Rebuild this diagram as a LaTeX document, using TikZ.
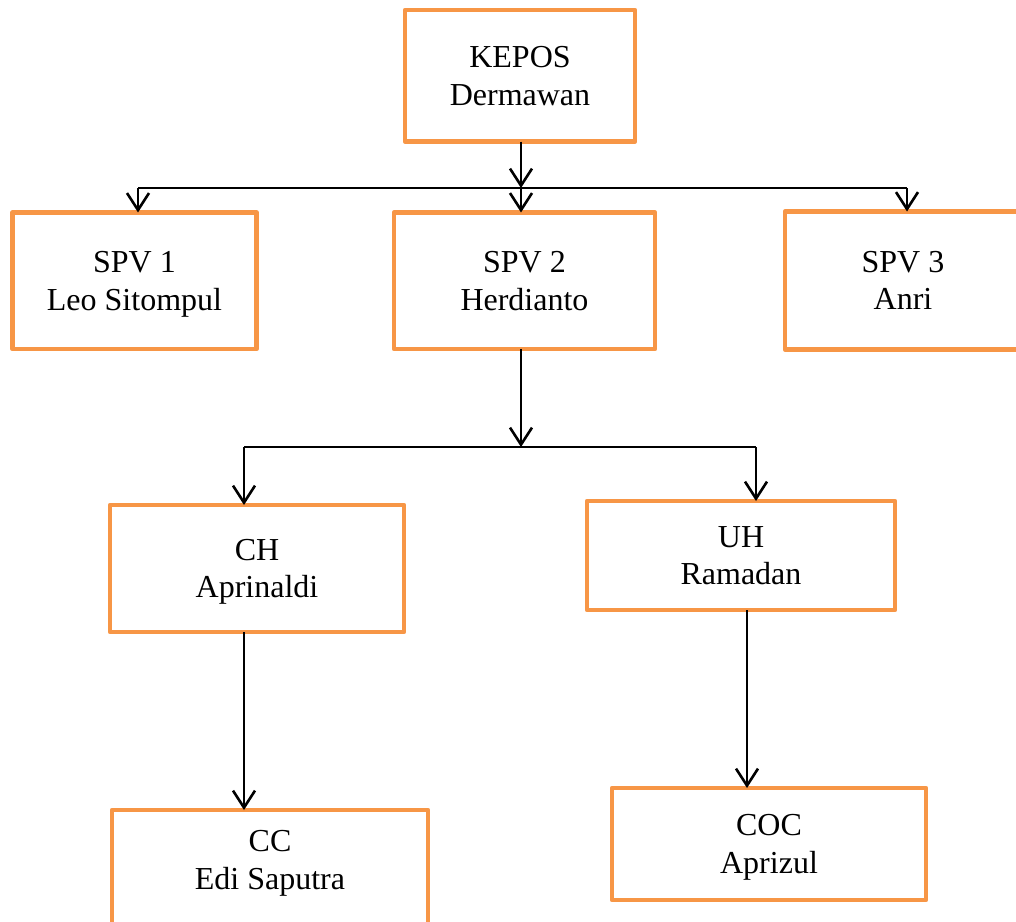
\documentclass[tikz,border=0pt]{standalone}
\usepackage{fontspec}
\setmainfont{Liberation Serif}
\usetikzlibrary{arrows.meta}
\definecolor{boxorange}{HTML}{F79646}
\tikzset{
  boxtext/.style={align=center, text depth=0pt, font=\fontsize{32}{37.5}\selectfont},
  box/.style={draw=boxorange, line width=4.5pt, line join=round, minimum width=#1, inner sep=0pt, outer sep=0pt, boxtext},
  arr/.style={line width=2.6pt, -{Straight Barb[length=17pt,width=22pt,line width=2.6pt]}},
  bus/.style={line width=2.2pt}
}
\begin{document}
\begin{tikzpicture}[x=1pt,y=-1pt]
\useasboundingbox (0,0) rectangle (1016,921);
\clip (0,0) rectangle (1016,921);
\fill[white] (0,0) rectangle (1016,921);
% boxes
\node[box=230pt, minimum height=131.5pt] (kepos) at (520,75.8) {KEPOS\\Dermawan};
\node[box=244pt, minimum height=136.5pt] (spv1) at (134.5,280.7) {SPV 1\\Leo Sitompul};
\node[box=261pt, minimum height=136.5pt] (spv2) at (524.5,280.7) {SPV 2\\Herdianto};
\node[box=236pt, minimum height=138pt] (spv3) at (903,280.5) {SPV 3\\Anri};
\node[box=294pt, minimum height=127pt] (ch) at (257,568.5) {CH\\Aprinaldi};
\node[box=308pt, minimum height=109pt] (uh) at (741,555.5) {UH\\Ramadan};
\node[box=316pt, minimum height=130pt] (cc) at (270,875) {};
\node[boxtext, inner sep=0pt] (cctext) at (270,860) {CC\\Edi Saputra};
\node[box=314pt, minimum height=112pt] (coc) at (769,844) {COC\\Aprizul};
% bus coordinates
\coordinate (b1m) at (521,188);
\coordinate (b1l) at (138,188);
\coordinate (b1r) at (907,188);
\coordinate (b2m) at (521,447);
\coordinate (b2l) at (244,447);
\coordinate (b2r) at (756,447);
\coordinate (c1) at (244,700);
\coordinate (c2) at (747,700);
% connectors
\draw[arr] (kepos.south -| b1m) -- (b1m);
\draw[bus] (b1l) -- (b1r);
\draw[arr] (b1l) -- (b1l |- spv1.north);
\draw[arr] (b1m) -- (b1m |- spv2.north);
\draw[arr] (b1r) -- (b1r |- spv3.north);
\draw[arr] (b2m |- spv2.south) -- (b2m);
\draw[bus] (b2l) -- (b2r);
\draw[arr] (b2l) -- (b2l |- ch.north);
\draw[arr] (b2r) -- (b2r |- uh.north);
\draw[arr] (c1 |- ch.south) -- (c1 |- cc.north);
\draw[arr] (c2 |- uh.south) -- (c2 |- coc.north);
\end{tikzpicture}
\end{document}
